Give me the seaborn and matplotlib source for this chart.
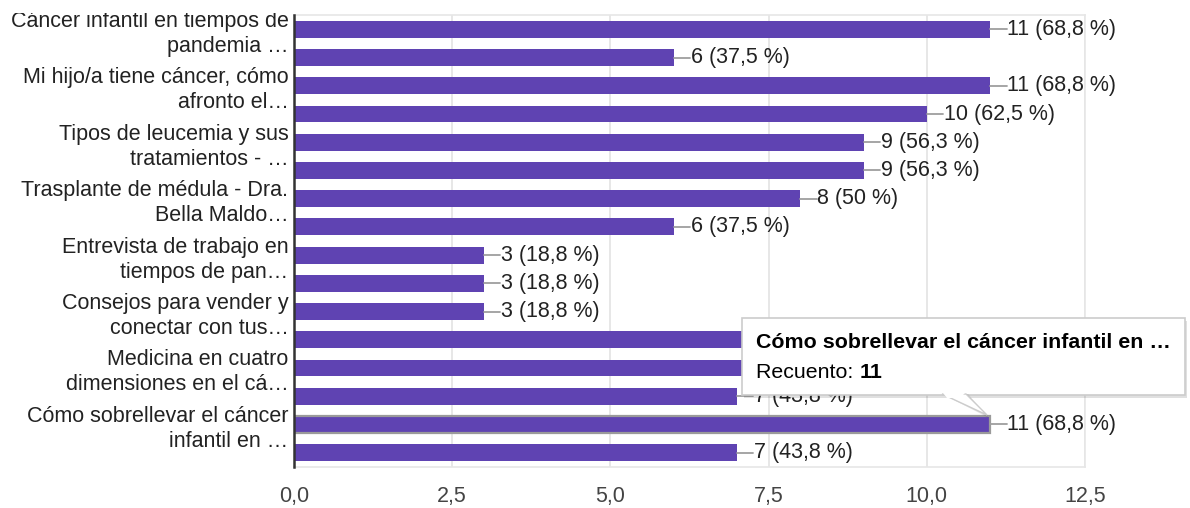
import matplotlib
matplotlib.use("Agg")
import matplotlib.pyplot as plt
import seaborn as sns
import pandas as pd
from matplotlib.patches import FancyBboxPatch, Polygon, Rectangle

# ---- data (top to bottom) ----
categories = [f"Charla {i+1}" for i in range(16)]
values = [11, 6, 11, 10, 9, 9, 8, 6, 3, 3, 3, 8, 8, 7, 11, 7]
pcts = [68.8, 37.5, 68.8, 62.5, 56.3, 56.3, 50, 37.5, 18.8, 18.8, 18.8, 50, 50, 43.8, 68.8, 43.8]
tick_labels = [
    "Cáncer infantil en tiempos de\npandemia …",
    "Mi hijo/a tiene cáncer, cómo\nafronto el…",
    "Tipos de leucemia y sus\ntratamientos - …",
    "Trasplante de médula - Dra.\nBella Maldo…",
    "Entrevista de trabajo en\ntiempos de pan…",
    "Consejos para vender y\nconectar con tus…",
    "Medicina en cuatro\ndimensiones en el cá…",
    "Cómo sobrellevar el cáncer\ninfantil en …",
]
x_ticks = [0, 2.5, 5, 7.5, 10, 12.5]
x_tick_labels = ["0,0", "2,5", "5,0", "7,5", "10,0", "12,5"]
tooltip_title = "Cómo sobrellevar el cáncer infantil en …"
tooltip_label = "Recuento: "
tooltip_value = "11"
highlight_index = 14

df = pd.DataFrame({"cat": categories, "val": values})

sns.set_theme(style="white")
plt.rcParams["font.family"] = ["Liberation Sans", "DejaVu Sans"]

W, H = 1190, 508
fig = plt.figure(figsize=(W / 100, H / 100), dpi=100)
ax = fig.add_axes([294 / W, 1 - 467 / H, (1085 - 294) / W, (467 - 15) / H])

purple = "#5f43b2"
sns.barplot(data=df, x="val", y="cat", orient="h", color=purple, width=0.6,
            saturation=1, ax=ax, zorder=3)

for i, p in enumerate(ax.patches):
    p.set_edgecolor("none")
    if i == highlight_index:
        p.set_edgecolor("#9a9a9a")
        p.set_linewidth(1.6)

ax.set_xlim(0, 12.5)
ax.set_ylim(15.51, -0.51)
ax.set_xlabel("")
ax.set_ylabel("")

ax.set_xticks(x_ticks)
ax.set_xticklabels(x_tick_labels, fontsize=15.5, color="#444444")
ax.set_yticks(list(range(0, 16, 2)))
ax.set_yticklabels(tick_labels, fontsize=15.5, color="#222222", linespacing=1.25)
ax.tick_params(axis="both", length=0)
ax.tick_params(axis="y", pad=4)
ax.tick_params(axis="x", pad=14)

ax.grid(axis="x", color="#e3e3e3", linewidth=1.2, zorder=0)
for s in ["top", "right", "bottom"]:
    ax.spines[s].set_color("#e6e6e6")
    ax.spines[s].set_linewidth(1.2)
ax.spines["left"].set_color("#333333")
ax.spines["left"].set_linewidth(1.8)
ax.spines["left"].set_zorder(5)

# data labels with leader line
for i, (v, pc) in enumerate(zip(values, pcts)):
    ax.plot([v, v + 0.26], [i, i], color="#9e9e9e", lw=1.3, zorder=4, clip_on=False)
    ptxt = f"{pc:g}".replace(".", ",")
    ax.text(v + 0.27, i, f"{v} ({ptxt} %)", va="center", ha="left",
            fontsize=15.5, color="#222222", zorder=4, clip_on=False)


def fx(x):
    return x / W


def fy(y):
    return 1 - y / H


# white band clipping the top of the first label (as in the screenshot)
fig.patches.append(Rectangle((0, fy(13)), fx(291), 13 / H, transform=fig.transFigure,
                             facecolor="white", edgecolor="none", zorder=9))

# ---- tooltip ----
bx0, bx1, by0, by1 = 742, 1185, 318, 395
shadow = FancyBboxPatch((fx(bx0 + 2), fy(by1 + 3)), fx(bx1 - bx0), (by1 - by0) / H,
                        boxstyle="square,pad=0", transform=fig.transFigure,
                        facecolor="#000000", alpha=0.12, edgecolor="none", zorder=10)
fig.patches.append(shadow)
box = FancyBboxPatch((fx(bx0), fy(by1)), fx(bx1 - bx0), (by1 - by0) / H,
                     boxstyle="square,pad=0", transform=fig.transFigure,
                     facecolor="white", edgecolor="#cccccc", linewidth=1.2, zorder=11)
fig.patches.append(box)
ptr_shadow = Polygon([(fx(942), fy(by1 - 1)), (fx(968), fy(by1 - 1)), (fx(989), fy(418))],
                     closed=True, transform=fig.transFigure, facecolor="#000000",
                     alpha=0.10, edgecolor="none", zorder=11)
fig.patches.append(ptr_shadow)
ptr = Polygon([(fx(942), fy(by1 - 1)), (fx(966), fy(by1 - 1)), (fx(987), fy(415))],
              closed=True, transform=fig.transFigure, facecolor="white",
              edgecolor="#cccccc", linewidth=1.0, zorder=12)
fig.patches.append(ptr)
cover = Polygon([(fx(943), fy(by1 - 2)), (fx(965), fy(by1 - 2)), (fx(960), fy(by1 + 3)),
                 (fx(947), fy(by1 + 3))], closed=True, transform=fig.transFigure,
                facecolor="white", edgecolor="none", zorder=13)
fig.patches.append(cover)

fig.text(fx(756), fy(343), tooltip_title, fontsize=15.4, fontweight="bold",
         color="#000000", va="center", ha="left", zorder=14)
t1 = fig.text(fx(756), fy(372), tooltip_label, fontsize=15.4, color="#000000",
              va="center", ha="left", zorder=14)
fig.canvas.draw()
ext = t1.get_window_extent(renderer=fig.canvas.get_renderer())
fig.text(ext.x1 / W, fy(372), tooltip_value, fontsize=15.4, fontweight="bold",
         color="#000000", va="center", ha="left", zorder=14)

fig.savefig("out.png", dpi=100)
